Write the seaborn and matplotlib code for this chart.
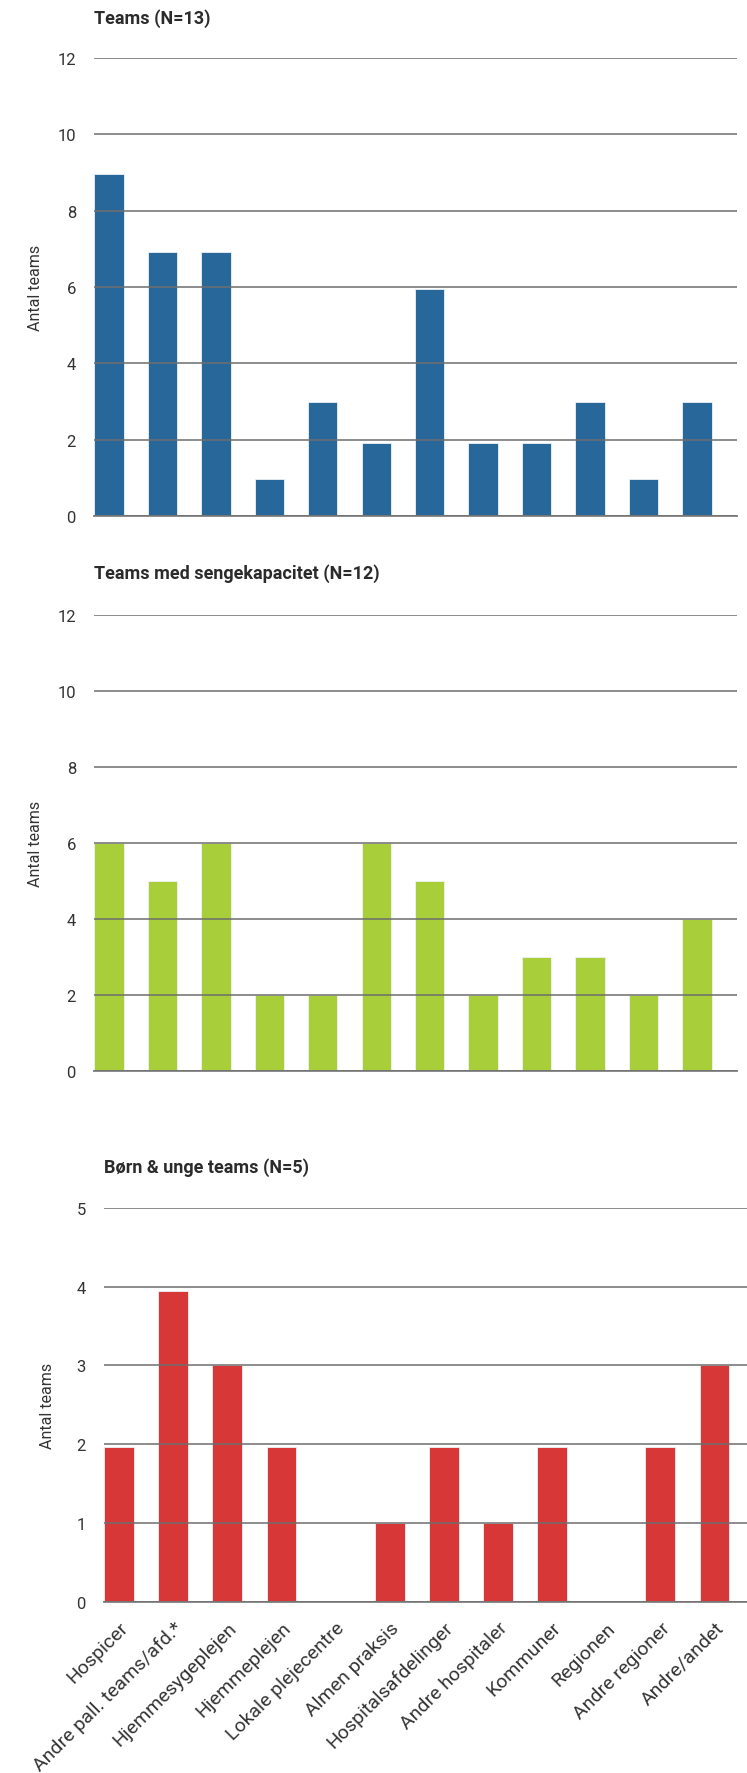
import pandas as pd
import matplotlib
matplotlib.use("Agg")
import matplotlib.pyplot as plt
import seaborn as sns

categories = ["Hospicer", "Andre pall. teams/afd.*", "Hjemmesygeplejen", "Hjemmeplejen",
              "Lokale plejecentre", "Almen praksis", "Hospitalsafdelinger", "Andre hospitaler",
              "Kommuner", "Regionen", "Andre regioner", "Andre/andet"]
teams = [8.95, 6.92, 6.92, 0.96, 2.99, 1.92, 5.94, 1.92, 1.92, 2.99, 0.96, 2.99]
teams_seng = [6, 5, 6, 2, 2, 6, 5, 2, 3, 3, 2, 4]
boern = [1.96, 3.94, 3, 1.96, 0, 1, 1.96, 1, 1.96, 0, 1.96, 3]

titles = ["Teams (N=13)", "Teams med sengekapacitet (N=12)", "Børn & unge teams (N=5)"]
colors = ["#27679a", "#a8ce3a", "#d83737"]

sns.set_theme(style="white")
plt.rcParams["font.family"] = ["Roboto", "DejaVu Sans"]

fig = plt.figure(figsize=(7.47, 17.74), dpi=100)

panels = [
    dict(vals=teams, rect=[0.1258, 0.7086, 0.861, 0.2582], ymax=12, step=2, xr=11.75, title_y=0.9893),
    dict(vals=teams_seng, rect=[0.1258, 0.3958, 0.861, 0.2571], ymax=12, step=2, xr=11.75, title_y=0.6765),
    dict(vals=boern, rect=[0.139, 0.0966, 0.861, 0.222], ymax=5, step=1, xr=11.6, title_y=0.342),
]

for i, p in enumerate(panels):
    ax = fig.add_axes(p["rect"])
    df = pd.DataFrame({"kategori": categories, "antal": p["vals"]})
    sns.barplot(data=df, x="kategori", y="antal", color=colors[i], width=0.55,
                saturation=1, edgecolor="#eef2f6", linewidth=0.6, ax=ax, zorder=2)
    ax.set_ylim(0, p["ymax"])
    ax.set_xlim(-0.28, p["xr"])
    ax.set_yticks(range(0, p["ymax"] + 1, p["step"]))
    ax.yaxis.grid(True, color="#6e6e6e", linewidth=1.1, zorder=3)
    ax.set_axisbelow(False)
    for s in ["left", "right", "top"]:
        ax.spines[s].set_visible(False)
    ax.spines["bottom"].set_color("#8a8a8a")
    ax.spines["bottom"].set_linewidth(1.4)
    ax.tick_params(axis="y", length=0, pad=13, labelsize=12, labelcolor="#333333")
    ax.tick_params(axis="x", length=0)
    ax.set_xlabel("")
    ax.set_ylabel("Antal teams", fontsize=11.5, color="#333333")
    ax.yaxis.set_label_coords(-0.079 if i < 2 else -0.076, 0.5)
    if i < 2:
        ax.set_xticklabels([])
    else:
        ax.set_xticks(range(len(categories)))
        ax.set_xticklabels(categories, rotation=45, ha="right", va="top",
                           rotation_mode="anchor", fontsize=14, color="#333333")
        ax.tick_params(axis="x", pad=12)
    fig.text(p["rect"][0], p["title_y"], titles[i], fontsize=13, fontweight="bold",
             color="#2b2b2b", ha="left", va="center")

fig.savefig("out.png", dpi=100)
